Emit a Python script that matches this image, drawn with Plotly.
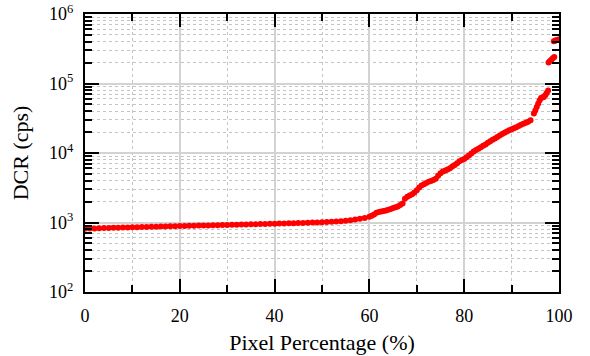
import plotly.graph_objects as go

# Pixel percentage (%) and dark count rate (cps)
pixel_pct = [0, 1, 2, 3, 4, 5, 6, 7, 8, 9, 10, 11, 12, 13, 14, 15, 16, 17, 18, 19,
             20, 21, 22, 23, 24, 25, 26, 27, 28, 29, 30, 31, 32, 33, 34, 35, 36, 37, 38, 39,
             40, 41, 42, 43, 44, 45, 46, 47, 48, 49, 50, 51, 52, 53, 54, 55, 56, 57, 58, 59,
             60, 60.5, 61, 61.5, 62, 62.5, 63, 63.5, 64, 64.5, 65, 65.5, 66, 66.5, 67, 67.5,
             68, 68.5, 69, 69.5, 70, 70.5, 71, 71.5, 72, 72.5, 73, 73.5, 74, 74.5, 75, 75.5,
             76, 76.5, 77, 77.5, 78, 78.5, 79, 79.5, 80, 80.5, 81, 81.5, 82, 82.5, 83, 83.5,
             84, 84.5, 85, 85.5, 86, 86.5, 87, 87.5, 88, 88.5, 89, 89.5, 90, 90.5, 91, 91.5,
             92, 92.5, 93, 93.5, 94,
             94.7, 95.0, 95.3, 95.6, 95.9, 96.2, 96.5, 96.8, 97.1, 97.4, 97.7,
             97.8, 98.1, 98.4, 98.7, 99.0,
             98.9, 99.2, 99.5, 99.8, 100]
dcr_cps = [815, 818, 822, 826, 830, 834, 838, 842, 845, 849, 852, 856, 860, 863, 866, 870, 873, 877, 880, 884,
           888, 891, 895, 898, 902, 905, 908, 911, 915, 918, 922, 926, 930, 933, 937, 940, 944, 948, 952, 956,
           960, 964, 968, 972, 977, 981, 986, 991, 996, 1002, 1008, 1015, 1025, 1035, 1045, 1060, 1080, 1100, 1130, 1160,
           1210, 1250, 1300, 1380, 1420, 1440, 1460, 1490, 1520, 1570, 1620, 1660, 1700, 1780, 1880, 2200,
           2350, 2450, 2550, 2700, 2900, 3200, 3400, 3550, 3700, 3850, 3950, 4100, 4250, 4700, 5100, 5400,
           5600, 5800, 6050, 6400, 6700, 7100, 7600, 7900, 8200, 8700, 9200, 9800, 10500, 11000, 11500, 12100,
           12700, 13300, 14000, 14700, 15500, 16200, 17000, 17900, 18800, 19600, 20400, 21200, 22000, 22700, 23500, 24400,
           25400, 26400, 27300, 28200, 29500,
           37000, 41000, 46000, 51000, 57000, 62000, 63000, 64000, 68000, 73000, 79000,
           200000, 210000, 220000, 230000, 240000,
           405000, 415000, 420000, 425000, 430000]

x_major = [0, 20, 40, 60, 80, 100]
x_minor = [10, 30, 50, 70, 90]
y_major = [1e2, 1e3, 1e4, 1e5, 1e6]
y_major_text = ["10<sup>2</sup>", "10<sup>3</sup>", "10<sup>4</sup>", "10<sup>5</sup>", "10<sup>6</sup>"]
y_minor = [m * d for d in (1e2, 1e3, 1e4, 1e5) for m in range(2, 10)]

fig = go.Figure()
fig.add_trace(go.Scatter(
    x=pixel_pct, y=dcr_cps, mode="markers",
    marker=dict(symbol="circle", size=6, color="#ff0000", line=dict(width=0)),
    showlegend=False,
))

font = "Liberation Serif"
fig.update_layout(
    width=590, height=356,
    margin=dict(l=85, r=31, t=14, b=64),
    paper_bgcolor="white", plot_bgcolor="white",
    font=dict(family=font, size=18, color="black"),
)
fig.update_xaxes(
    range=[0, 100], tickvals=x_major, ticktext=[str(v) for v in x_major],
    ticks="inside", ticklen=13, tickwidth=2, tickcolor="black",
    showline=True, linecolor="black", linewidth=2, mirror="ticks",
    showgrid=True, gridcolor="#d3d3d3", gridwidth=1.5,
    zeroline=False, ticklabelstandoff=6, automargin=False,
    minor=dict(tickvals=x_minor, ticks="inside", ticklen=7, tickwidth=2, tickcolor="black",
               showgrid=True, gridcolor="#c4c4c4", gridwidth=1, griddash="dot"),
    title=dict(text="Pixel Percentage (%)", font=dict(family=font, size=22), standoff=10),
    tickfont=dict(family=font, size=18),
)
fig.update_yaxes(
    type="log", range=[2, 6], tickvals=y_major, ticktext=y_major_text,
    ticks="inside", ticklen=14, tickwidth=2, tickcolor="black",
    showline=True, linecolor="black", linewidth=2, mirror="ticks",
    showgrid=True, gridcolor="#d3d3d3", gridwidth=1.5,
    zeroline=False, ticklabelstandoff=6, automargin=False,
    minor=dict(tickvals=y_minor, ticks="inside", ticklen=7, tickwidth=2, tickcolor="black",
               showgrid=True, gridcolor="#c4c4c4", gridwidth=1, griddash="dot"),
    title=dict(text="DCR (cps)", font=dict(family=font, size=22), standoff=14),
    tickfont=dict(family=font, size=18),
)

fig.write_html("out.html")
